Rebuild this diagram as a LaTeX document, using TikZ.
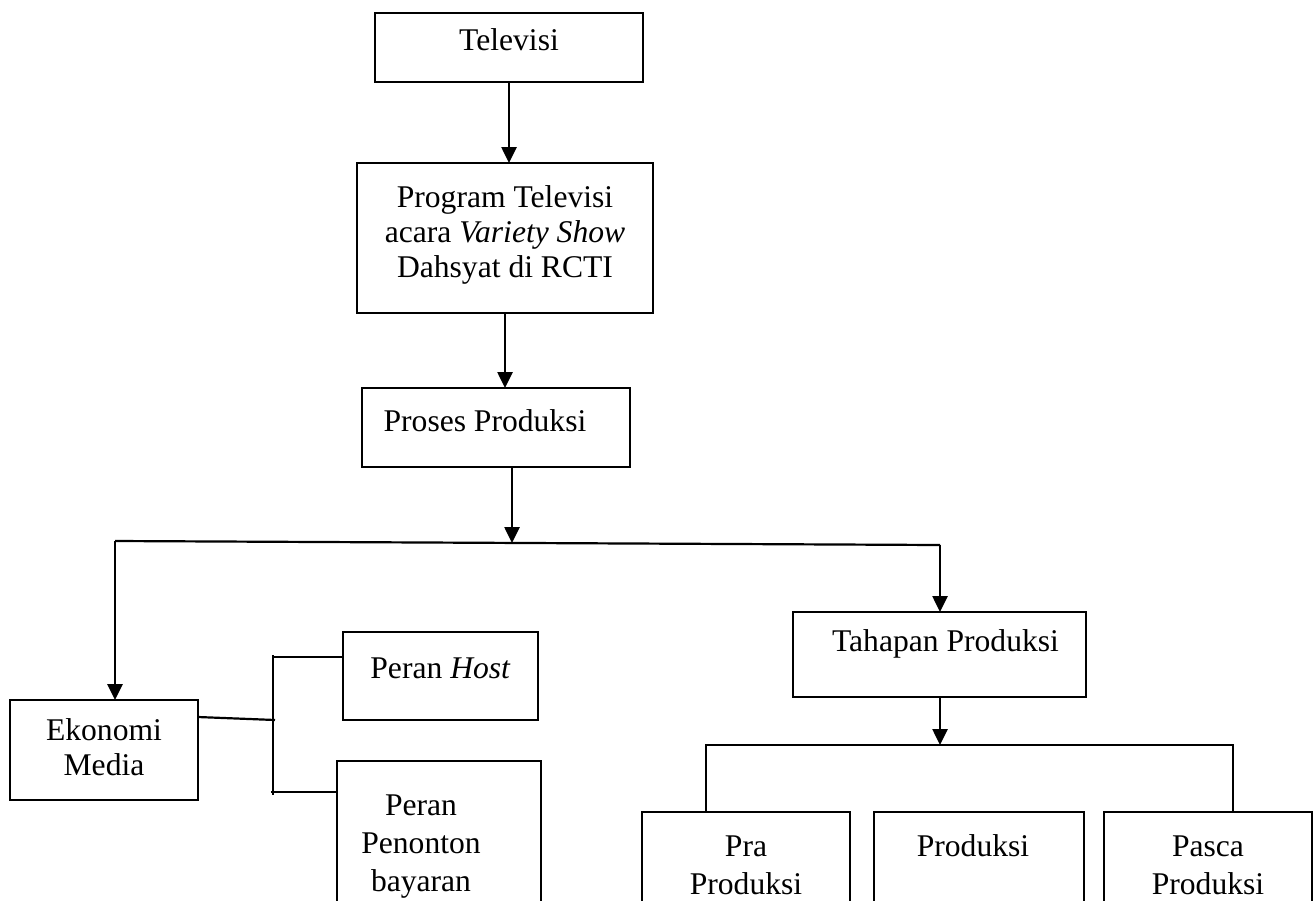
\documentclass[tikz,border=0pt]{standalone}
\usepackage{fontspec}
\setmainfont{Liberation Serif}
\usetikzlibrary{arrows.meta}
\tikzset{
  box/.style={draw, line width=1pt, inner sep=0pt, outer sep=0pt},
  conn/.style={line width=1.1pt},
  arr/.style={line width=1.3pt, -{Triangle[length=8pt,width=7.5pt]}},
}
% name, x1, y1, x2, y2, first-baseline offset (pt), content
\newcommand{\boxnode}[7]{%
  \pgfmathsetmacro\bw{(#4-#2)*0.5}%
  \pgfmathsetmacro\bh{(#5-#3)*0.5}%
  \node[box, anchor=north west] (#1) at (#2,#3)
    {\parbox[t][\bh pt][t]{\bw pt}{\centering\rule{0pt}{#6pt}#7}};}
\begin{document}
\begin{tikzpicture}[x=0.5pt, y=-0.5pt, font=\fontsize{15.8}{17.5}\selectfont]
\useasboundingbox (0,0) rectangle (1316,900);
\clip (0,0) rectangle (1316,900);
\boxnode{tv}{375}{13}{643}{82}{18.5}{Televisi}
\boxnode{prog}{357}{163}{653}{313}{22}{Program Televisi\\acara \textit{Variety Show}\\Dahsyat di RCTI}
\boxnode{proc}{362}{388}{630}{467}{21.5}{\hspace*{-11pt}Proses Produksi}
\boxnode{eko}{10}{700}{198}{800}{20}{Ekonomi\\Media}
\boxnode{host}{343}{632}{538}{720}{23}{Peran \textit{Host}}
\boxnode{pen}{337}{761}{541}{930}{27}{\fontsize{15.8}{19}\selectfont\hspace*{-18pt}Peran\\\hspace*{-18pt}Penonton\\\hspace*{-18pt}bayaran}
\boxnode{tah}{793}{612}{1086}{697}{19.5}{\hspace*{6pt}Tahapan Produksi}
\boxnode{pra}{642}{812}{850}{930}{22}{\fontsize{15.8}{19}\selectfont Pra\\Produksi}
\boxnode{prod}{874}{812}{1084}{930}{22}{\hspace*{-6pt}Produksi}
\boxnode{pasca}{1104}{812}{1312}{930}{22}{\fontsize{15.8}{19}\selectfont Pasca\\Produksi}

\coordinate (jl) at (115,541);
\coordinate (jr) at (940,545);
\coordinate (jm) at (512,543);
\coordinate (bm) at (275,720);
\coordinate (bt) at (273,655);
\coordinate (bt2) at (273,657);
\coordinate (bb) at (273,795);
\coordinate (bb2) at (271,792);
\coordinate (tj) at (940,745);
\coordinate (tl) at (706,745);
\coordinate (tr) at (1233,745);

\draw[arr] (tv.south) -- (tv.south |- prog.north);
\draw[arr] (prog.south) -- (prog.south |- proc.north);
\draw[arr] (proc.south -| jm) -- (jm);
\draw[conn] (jl) -- (jr);
\draw[arr] (jl) -- (jl |- eko.north);
\draw[arr] (jr) -- (jr |- tah.north);
\draw[conn] (eko.east |- 0,717) -- (bm);
\draw[conn] (bt) -- (bb);
\draw[conn] (bt2) -- (bt2 -| host.west);
\draw[conn] (bb2) -- (bb2 -| pen.west);
\draw[arr] (tah.south -| tj) -- (tj);
\draw[conn] (pra.north -| tl) -- (tl) -- (tr) -- (tr |- pasca.north);
\end{tikzpicture}
\end{document}
